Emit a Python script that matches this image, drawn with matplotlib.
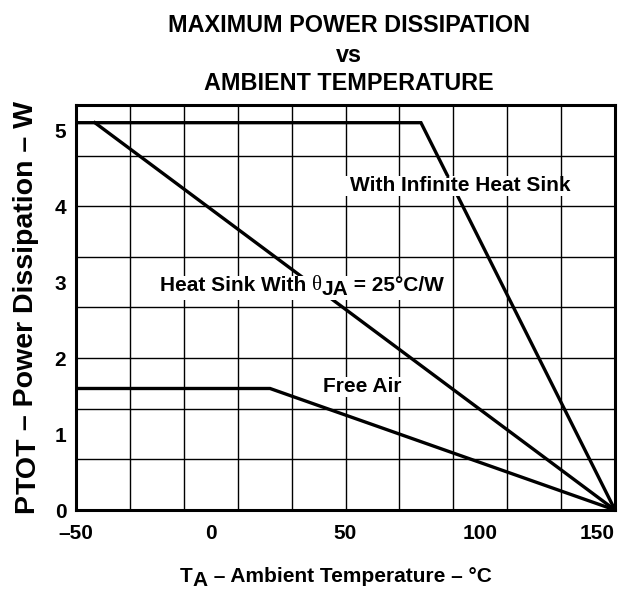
import matplotlib
matplotlib.use('Agg')
import matplotlib.pyplot as plt
from matplotlib.patches import Rectangle
from matplotlib.transforms import Bbox

plt.rcParams['font.family'] = ['Liberation Sans', 'DejaVu Sans']
plt.rcParams['font.weight'] = 'bold'

# axis ticks and grid (grid is every 20 degC / every 2/3 W like the datasheet)
temp_ticks = [-50, 0, 50, 100, 150]
temp_tick_labels = ['–50', '0', '50', '100', '150']
temp_grid = [-30, -10, 10, 30, 50, 70, 90, 110, 130]
power_ticks = [0, 1, 2, 3, 4, 5]
power_grid = [0.667, 1.333, 2.0, 2.667, 3.333, 4.0, 4.667]

# derating curves
infinite_temp = [-50, 78, 150]
infinite_power = [5.1, 5.1, 0]
sink25_temp = [-43, 150]
sink25_power = [5.1, 0]
free_air_temp = [-50, 22, 150]
free_air_power = [1.6, 1.6, 0]

W, H = 624, 590
fig, ax = plt.subplots(figsize=(W / 100, H / 100), dpi=100)
fig.subplots_adjust(left=76 / W, right=615 / W, bottom=1 - 510 / H, top=1 - 105 / H)

ax.set_xlim(-50, 150)
ax.set_ylim(0, 5.333)
for t in temp_grid:
    ax.axvline(t, color='black', lw=1.0, zorder=1)
for p in power_grid:
    ax.axhline(p, color='black', lw=1.0, zorder=1)

lw = 2.4
ax.plot(infinite_temp, infinite_power, color='black', lw=lw, zorder=2, solid_joinstyle='miter')
ax.plot(sink25_temp, sink25_power, color='black', lw=lw, zorder=2)
ax.plot(free_air_temp, free_air_power, color='black', lw=lw, zorder=2, solid_joinstyle='miter')

ax.set_xticks(temp_ticks, temp_tick_labels)
ax.set_yticks(power_ticks)
ax.tick_params(axis='both', length=0, labelsize=15)
ax.tick_params(axis='x', pad=10)
ax.tick_params(axis='y', pad=7)
ax.get_xticklabels()[-1].set_ha('right')
for sp in ax.spines.values():
    sp.set_linewidth(2.2)


def chain_label(x, y, pieces, transform, rotation=0):
    """Text built from pieces (string, drop in points, font kwargs), so subscripts keep full size."""
    arts = []
    prev = None
    prev_drop = 0
    for s, drop, font in pieces:
        if prev is None:
            t = ax.text(x, y, s, transform=transform, rotation=rotation, rotation_mode='anchor',
                        ha='left', va='baseline', zorder=4, **font)
        elif rotation == 90:
            t = ax.annotate(s, xy=(0, 1), xycoords=prev, xytext=(drop - prev_drop, 0),
                            textcoords='offset points', rotation=90, ha='left', va='bottom',
                            zorder=4, **font)
        else:
            t = ax.annotate(s, xy=(1, 0), xycoords=prev, xytext=(0, prev_drop - drop),
                            textcoords='offset points', ha='left', va='bottom', zorder=4, **font)
        arts.append(t)
        prev = t
        prev_drop = drop
    return arts


lab = dict(fontsize=15)
sym = dict(fontsize=15, family='Liberation Serif', weight='normal')

infinite_label = chain_label(51.7, 4.2, [('With Infinite Heat Sink', 0, lab)], ax.transData)
sink25_label = chain_label(-19, 2.88, [('Heat Sink With ', 0, lab), ('θ', 0, sym),
                                       ('JA', 3, lab), (' = 25°C/W', 0, lab)], ax.transData)
free_air_label = chain_label(41.5, 1.56, [('Free Air', 0, lab)], ax.transData)

chain_label(180 / W, 1 - 582 / H, [('T', 0, lab), ('A', 3, lab),
                                  (' – Ambient Temperature – °C', 0, lab)], fig.transFigure)
yl = dict(fontsize=20.5)
chain_label(33 / W, 1 - 513 / H, [('P', 0, yl), ('TOT', 2, yl),
                                  (' – Power Dissipation – W', 0, yl)], fig.transFigure, rotation=90)

fig.text(349 / W, 1 - 31.7 / H, 'MAXIMUM POWER DISSIPATION', ha='center', va='baseline', fontsize=16.8)
fig.text(349 / W, 1 - 61.7 / H, 'vs', ha='center', va='baseline', fontsize=16.8)
fig.text(349 / W, 1 - 90 / H, 'AMBIENT TEMPERATURE', ha='center', va='baseline', fontsize=16.8)

# white boxes behind the in-plot labels so grid and curves stop at the text
fig.canvas.draw()
renderer = fig.canvas.get_renderer()
for arts in [infinite_label, sink25_label, free_air_label]:
    bb = Bbox.union([a.get_window_extent(renderer) for a in arts])
    bb = Bbox.from_extents(bb.x0 - 5, bb.y0 - 1, bb.x1 + 6, bb.y1 + 0)
    box = bb.transformed(fig.transFigure.inverted())
    ax.add_patch(Rectangle((box.x0, box.y0), box.width, box.height, transform=fig.transFigure,
                           facecolor='white', edgecolor='none', zorder=3))

fig.savefig('out.png', dpi=100)
